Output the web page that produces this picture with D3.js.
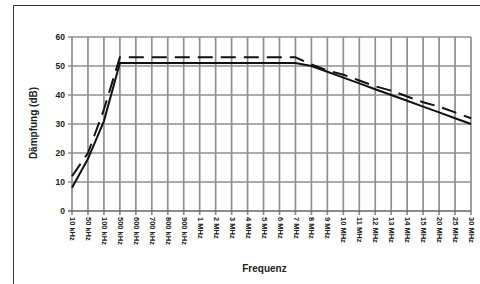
<!DOCTYPE html>
<html>
<head>
<meta charset="utf-8">
<script src="https://cdn.jsdelivr.net/npm/d3@7"></script>
<style>
  body { margin: 0; background: #fff; }
  svg { display: block; font-family: 'Liberation Sans', Arial, sans-serif; }
</style>
</head>
<body>
<div id="chart"></div>
<script>
let frequencies = ['10 kHz', '50 kHz', '100 kHz', '500 kHz', '600 kHz', '700 kHz', '800 kHz', '900 kHz',
  '1 MHz', '2 MHz', '3 MHz', '4 MHz', '5 MHz', '6 MHz', '7 MHz', '8 MHz', '9 MHz',
  '10 MHz', '11 MHz', '12 MHz', '13 MHz', '14 MHz', '15 MHz', '20 MHz', '25 MHz', '30 MHz'];

let solidValues = [8, 18, 31, 51, 51, 51, 51, 51, 51, 51, 51, 51, 51, 51, 51,
  50, 48, 46, 44, 42, 40, 38, 36, 34, 32, 30];

let dashedValues = [12, 20, 35, 53, 53, 53, 53, 53, 53, 53, 53, 53, 53, 53, 53,
  50.5, 48.5, 47, 45, 43, 41.5, 39.5, 37.5, 36, 34, 32];

let yTicks = [0, 10, 20, 30, 40, 50, 60];

let svgWidth = 480;
let svgHeight = 284;

let margin = { top: 37, right: 9, bottom: 73, left: 72 };
let width = svgWidth - margin.left - margin.right;
let height = svgHeight - margin.top - margin.bottom;

let svg = d3.select('#chart')
  .append('svg')
  .attr('width', svgWidth)
  .attr('height', svgHeight);

// frame (top + left edge of the chart box)
svg.append('path')
  .attr('d', 'M13.5,284 V5.5 H480')
  .attr('fill', 'none')
  .attr('stroke', '#333')
  .attr('stroke-width', 1);

let chartGroup = svg.append('g')
  .attr('transform', `translate(${margin.left}, ${margin.top})`);

let xScale = d3.scalePoint()
  .domain(frequencies)
  .range([0, width]);

let yScale = d3.scaleLinear()
  .domain([0, 60])
  .range([height, 0]);

// grid
chartGroup.append('g')
  .selectAll('line')
  .data(frequencies)
  .enter()
  .append('line')
  .attr('x1', d => xScale(d))
  .attr('x2', d => xScale(d))
  .attr('y1', 0)
  .attr('y2', height + 4)
  .attr('stroke', '#8f8f8f')
  .attr('stroke-width', 1.7);

chartGroup.append('g')
  .selectAll('line')
  .data(yTicks)
  .enter()
  .append('line')
  .attr('x1', -4)
  .attr('x2', width)
  .attr('y1', d => yScale(d))
  .attr('y2', d => yScale(d))
  .attr('stroke', d => d === 0 ? '#666' : '#8f8f8f')
  .attr('stroke-width', 1.7);

// axes (labels only, grid drawn above)
let leftAxis = d3.axisLeft(yScale).tickValues(yTicks).tickSize(0).tickPadding(7);
let yAxis = chartGroup.append('g').call(leftAxis);
yAxis.select('.domain').remove();
yAxis.selectAll('text')
  .attr('font-size', 8.5)
  .attr('font-weight', 700)
  .attr('fill', '#222');

let bottomAxis = d3.axisBottom(xScale).tickSize(0);
let xAxis = chartGroup.append('g')
  .attr('transform', `translate(0,${height})`)
  .call(bottomAxis);
xAxis.select('.domain').remove();
xAxis.selectAll('text')
  .attr('transform', 'rotate(90)')
  .attr('x', 6)
  .attr('y', 0)
  .attr('dy', '0.32em')
  .style('text-anchor', 'start')
  .attr('font-size', 7.5)
  .attr('font-weight', 700)
  .attr('fill', '#222');

// lines
let line = d3.line()
  .x((d, i) => xScale(frequencies[i]))
  .y(d => yScale(d));

chartGroup.append('path')
  .datum(dashedValues)
  .attr('d', line)
  .attr('fill', 'none')
  .attr('stroke', '#111')
  .attr('stroke-width', 2)
  .attr('stroke-dasharray', '15,8');

chartGroup.append('path')
  .datum(solidValues)
  .attr('d', line)
  .attr('fill', 'none')
  .attr('stroke', '#111')
  .attr('stroke-width', 2);

// titles
chartGroup.append('text')
  .attr('transform', 'rotate(-90)')
  .attr('x', -(height / 2) + 1)
  .attr('y', -35)
  .style('text-anchor', 'middle')
  .attr('font-size', 10)
  .attr('font-weight', 700)
  .attr('fill', '#222')
  .text('Dämpfung (dB)');

chartGroup.append('text')
  .attr('x', width / 2 - 7)
  .attr('y', height + 61)
  .style('text-anchor', 'middle')
  .attr('font-size', 10)
  .attr('font-weight', 700)
  .attr('fill', '#222')
  .text('Frequenz');
</script>
</body>
</html>
